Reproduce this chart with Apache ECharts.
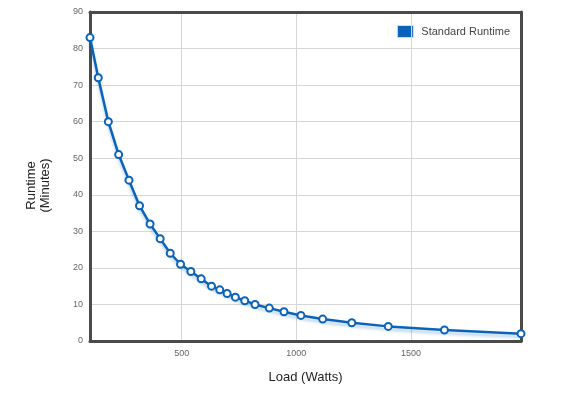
<!DOCTYPE html>
<html>
<head>
<meta charset="utf-8">
<script src="https://cdn.jsdelivr.net/npm/echarts@6/dist/echarts.min.js"></script>
<style>
  html, body { margin: 0; padding: 0; background: #fff; }
  #chart { width: 573px; height: 397px; }
</style>
</head>
<body>
<div id="chart"></div>
<script>
const loadWatts = [100, 136, 180, 225, 270, 316, 362, 406, 450, 495, 540, 585, 630, 666, 698, 734, 775, 820, 882, 946, 1020, 1115, 1242, 1401, 1646, 1980]
const runtimeMinutes = [83, 72, 60, 51, 44, 37, 32, 28, 24, 21, 19, 17, 15, 14, 13, 12, 11, 10, 9, 8, 7, 6, 5, 4, 3, 2]
const seriesName = 'Standard Runtime'

const blue = '#0b63b9'
const points = loadWatts.map((w, i) => [w, runtimeMinutes[i]])

// box round the plot: dark, about 3px
const frame = { show: true, onZero: false, lineStyle: { color: '#4a4a4a', width: 3 } }

const chart = echarts.init(document.getElementById('chart'))
chart.setOption({
  animation: false,
  textStyle: { fontFamily: 'Liberation Sans, Arial, sans-serif' },
  grid: { left: 90, top: 12, right: 52, bottom: 56 },
  legend: {
    right: 58, top: 20,
    icon: 'rect', itemWidth: 16, itemHeight: 12,
    textStyle: { color: '#444', fontSize: 11, padding: [0, 0, 0, 3] },
    itemStyle: { color: blue, borderColor: '#cfe0f2', borderWidth: 1 },
    data: [seriesName],
  },
  xAxis: [{
    type: 'value',
    min: loadWatts[0],
    max: loadWatts[loadWatts.length - 1],
    splitNumber: 4,
    name: 'Load (Watts)',
    nameLocation: 'middle',
    nameGap: 30,
    nameTextStyle: { color: '#222', fontSize: 13 },
    axisLine: frame,
    axisTick: { show: false },
    axisLabel: { color: '#666', fontSize: 9, margin: 8, showMinLabel: false, showMaxLabel: false, formatter: v => String(v) },
    splitLine: { lineStyle: { color: '#d6d6d6', width: 1 } },
    z: 5,
  }, {
    type: 'value', position: 'top',
    min: loadWatts[0], max: loadWatts[loadWatts.length - 1],
    axisLine: frame, axisTick: { show: false }, axisLabel: { show: false }, splitLine: { show: false },
    z: 5,
  }],
  yAxis: [{
    type: 'value',
    min: 0, max: 90, interval: 10,
    name: 'Runtime\n(Minutes)',
    nameLocation: 'middle',
    nameRotate: 90,
    nameGap: 38,
    nameTextStyle: { color: '#222', fontSize: 13, lineHeight: 14, padding: [0, 18, 0, 0] },
    axisLine: frame,
    axisTick: { show: false },
    axisLabel: { color: '#666', fontSize: 9, margin: 7 },
    splitLine: { lineStyle: { color: '#d6d6d6', width: 1 } },
    z: 5,
  }, {
    type: 'value', position: 'right',
    min: 0, max: 90, interval: 10,
    axisLine: frame, axisTick: { show: false }, axisLabel: { show: false }, splitLine: { show: false },
    z: 5,
  }],
  series: [{
    name: seriesName,
    type: 'line',
    data: points,
    symbol: 'emptyCircle',
    symbolSize: 7,
    showAllSymbol: true,
    clip: false,
    z: 10,
    lineStyle: {
      color: blue, width: 2.5,
      shadowColor: 'rgba(11,99,185,0.3)', shadowBlur: 3, shadowOffsetY: 3,
    },
    itemStyle: { color: blue, borderColor: blue, borderWidth: 2 },
  }],
})
</script>
</body>
</html>
